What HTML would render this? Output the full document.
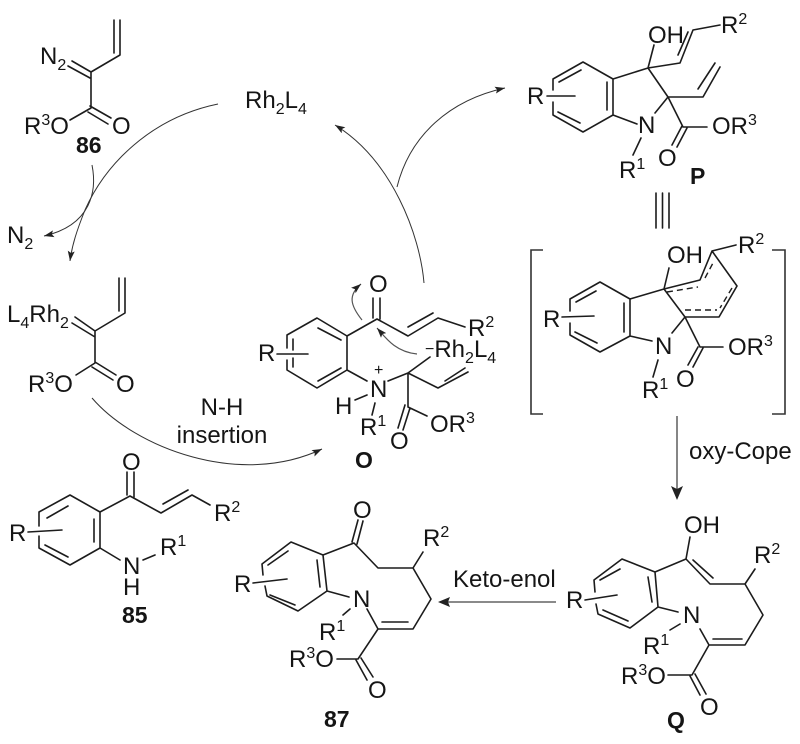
<!DOCTYPE html>
<html>
<head>
<meta charset="utf-8">
<style>
html,body{margin:0;padding:0;background:#fff}
svg{display:block;filter:blur(.3px)}
text{font-family:"Liberation Sans",sans-serif;font-size:24px;fill:#151515}
.s{font-size:16px}
.b{font-weight:bold;font-size:23px}
.l{fill:none;stroke:#1c1c1c;stroke-width:1.6;stroke-linecap:round;stroke-linejoin:round}
.d{fill:none;stroke:#1c1c1c;stroke-width:1.4;stroke-dasharray:6 4}
.a{fill:none;stroke:#333;stroke-width:1;marker-end:url(#ah)}
.g{fill:none;stroke:#555;stroke-width:1.2;marker-end:url(#ah)}
.st{fill:none;stroke:#444;stroke-width:1.3}
</style>
</head>
<body>
<svg width="800" height="744" viewBox="0 0 800 744" xmlns="http://www.w3.org/2000/svg">
<defs>
<marker id="ah" markerUnits="userSpaceOnUse" markerWidth="12" markerHeight="8" refX="10" refY="4" orient="auto">
<path d="M0,0.5 L10,4 L0,7.5 L2,4 Z" fill="#222"/>
</marker>
</defs>

<!-- curved cycle arrows -->
<path class="a" d="M218,104 C150,118 105,165 85,210 C77,230 72,245 70,261"/>
<path class="a" d="M92,165 C97,190 92,225 44,236"/>
<path class="a" d="M424,283 C420,235 392,160 335,125"/>
<path class="a" d="M397,187 C410,135 450,100 505,88"/>
<path class="a" d="M92,398 C135,448 240,488 322,449"/>
<path class="g" d="M362,320 C350,305 348,295 361,284"/>
<path class="g" d="M417,354 C395,352 385,337 377,328"/>

<!-- straight arrows -->
<path class="st" d="M677,416 V498"/>
<path d="M677,500 L671,486 L677,489 L683,486 Z" fill="#222"/>
<path class="st" d="M556,602 H442"/>
<path d="M438,602 L450,597 L448,602 L450,607 Z" fill="#222"/>

<!-- 86 -->
<path class="l" d="M114,20 V53 M120,20 V55 L91,72 V108 L70,120 M91,72 L72,61 M90,78 L68,66 M90,106 L111,118 M88,112 L108,124"/>
<text x="40" y="64">N<tspan class="s" dy="6">2</tspan></text>
<text x="24" y="134">R<tspan class="s" dy="-9">3</tspan><tspan dy="9">O</tspan></text>
<text x="112" y="134">O</text>
<text class="b" x="76" y="153">86</text>

<text x="245" y="108">Rh<tspan class="s" dy="6">2</tspan><tspan dy="-6">L</tspan><tspan class="s" dy="6">4</tspan></text>
<text x="7" y="243">N<tspan class="s" dy="6">2</tspan></text>

<!-- L4Rh2 carbene -->
<path class="l" d="M119,278 V311 M125,278 V313 L95,331 V363 L76,375 M95,331 L75,317 M95,337 L72,323 M95,362 L116,375 M92,367 L113,380"/>
<text x="7" y="322">L<tspan class="s" dy="6">4</tspan><tspan dy="-6">Rh</tspan><tspan class="s" dy="6">2</tspan></text>
<text x="28" y="392">R<tspan class="s" dy="-9">3</tspan><tspan dy="9">O</tspan></text>
<text x="116" y="392">O</text>

<text x="222" y="415" text-anchor="middle">N-H</text>
<text x="222" y="443" text-anchor="middle">insertion</text>

<!-- 85 -->
<path class="l" d="M39,526 V512 L70,495 L100,512 V548 L70,565 L39,548 V536 M47,518 L68,506 M94,519 V542 M45,545 L68,557 M28,532 L62,530 M100,512 L130,496 L161,513 L192,495 L210,505 M127,472 V495 M134,472 V497 M163,504 L188,490 M100,548 L120,560 M143,560 L155,555"/>
<text x="9" y="541">R</text>
<text x="122" y="470">O</text>
<text x="214" y="521">R<tspan class="s" dy="-9">2</tspan></text>
<text x="160" y="555">R<tspan class="s" dy="-9">1</tspan></text>
<text x="123" y="574">N</text>
<text x="123" y="595">H</text>
<text class="b" x="122" y="623">85</text>

<!-- O intermediate -->
<path class="l" d="M287,348 V335 L317,318 L347,336 V370 L317,388 L287,370 V360 M318,328 L341,340 M318,381 L341,368 M293,339 V350 M293,358 V367 M277,354 H308 M347,336 L377,319 L408,336 L438,318 L465,327 M373,298 V318 M380,298 V319 M408,327 L433,313 M347,370 L367,381 M355,400 L367,395 M375,403 L372,415 M388,381 L408,373 L430,357 M408,373 L438,388 L468,372 M445,381 L465,368 M408,373 V407 M405,405 L398,428 M410,408 L403,430 M408,407 L427,416"/>
<text x="258" y="361">R</text>
<text x="369" y="292">O</text>
<text x="468" y="336">R<tspan class="s" dy="-9">2</tspan></text>
<text x="425" y="357"><tspan class="s" dy="-3">−</tspan><tspan dy="3">Rh</tspan><tspan class="s" dy="6">2</tspan><tspan dy="-6">L</tspan><tspan class="s" dy="6">4</tspan></text>
<text x="370" y="397">N</text>
<text class="s" x="374" y="375">+</text>
<text x="335" y="414">H</text>
<text x="360" y="435">R<tspan class="s" dy="-9">1</tspan></text>
<text x="390" y="449">O</text>
<text x="430" y="432">OR<tspan class="s" dy="-9">3</tspan></text>
<text class="b" x="355" y="468">O</text>

<!-- P -->
<path class="l" d="M553,90 V79 L583,62 L613,79 V115 L583,132 L553,115 V102 M559,82 L581,70 M607,82 V110 M558,112 L580,123 M547,96 H575 M613,79 L648,68 L654,45 M648,68 L680,63 L693,30 L720,25 M678,55 L688,32 M648,68 L668,97 L703,97 L720,67 M698,89 L715,63 M613,115 L637,124 M655,113 L668,97 L683,127 L707,127 M682,126 L672,145 M687,128 L677,147 M641,138 L633,155"/>
<text x="527" y="104">R</text>
<text x="648" y="43">OH</text>
<text x="721" y="33">R<tspan class="s" dy="-9">2</tspan></text>
<text x="638" y="133">N</text>
<text x="619" y="178">R<tspan class="s" dy="-9">1</tspan></text>
<text x="712" y="134">OR<tspan class="s" dy="-9">3</tspan></text>
<text x="658" y="166">O</text>
<text class="b" x="690" y="184">P</text>

<!-- triple bond equivalence -->
<path class="l" d="M656,193 V228 M662.5,193 V228 M669,193 V228"/>

<!-- brackets -->
<path class="st" style="stroke:#333;stroke-width:1.6" d="M543,250 H531 V414 H543 M772,250 H785 V414 H772"/>

<!-- bracket structure -->
<path class="l" d="M570,311 V299 L600,282 L630,299 V336 L600,352 L570,335 V323 M576,302 L596,291 M624,303 V332 M575,332 L597,343 M562,317 L594,316 M630,299 L664,289 L669,268 M664,289 L700,280 L712,251 L736,245 M712,251 L737,286 L719,317 L685,317 L664,289 M630,336 L652,341 M672,333 L685,317 L700,347 L723,347 M698,347 L688,365 M703,348 L693,367 M658,360 L653,377"/>
<path class="d" d="M667,292 L698,287 M705,278 L713,263 M732,288 L720,308 M685,310 L717,310"/>
<text x="543" y="327">R</text>
<text x="667" y="263">OH</text>
<text x="738" y="253">R<tspan class="s" dy="-9">2</tspan></text>
<text x="655" y="354">N</text>
<text x="642" y="398">R<tspan class="s" dy="-9">1</tspan></text>
<text x="728" y="355">OR<tspan class="s" dy="-9">3</tspan></text>
<text x="676" y="387">O</text>

<text x="689" y="459">oxy-Cope</text>
<text x="453" y="587">Keto-enol</text>

<!-- Q -->
<path class="l" d="M595,592 L594,580 L622,559 L655,572 L658,607 L630,628 L598,614 L596,604 M600,580 L620,569 M648,577 L652,602 M603,610 L628,621 M585,600 L617,595 M655,572 L686,559 L690,537 M686,559 L710,584 L745,584 L755,569 M693,560 L713,578 M745,584 L763,615 L745,645 L709,645 L700,629 M742,639 L713,639 M658,607 L678,612 M680,624 L670,630 M709,645 L692,675 L668,675 M690,676 L700,695 M695,674 L706,694"/>
<text x="566" y="608">R</text>
<text x="684" y="533">OH</text>
<text x="754" y="563">R<tspan class="s" dy="-9">2</tspan></text>
<text x="683" y="623">N</text>
<text x="643" y="654">R<tspan class="s" dy="-9">1</tspan></text>
<text x="621" y="684">R<tspan class="s" dy="-9">3</tspan><tspan dy="9">O</tspan></text>
<text x="700" y="715">O</text>
<text class="b" x="667" y="728">Q</text>

<!-- 87 -->
<path class="l" d="M263,575 L262,564 L291,542 L323,555 L327,591 L298,611 L267,596 L265,586 M268,565 L288,551 M317,560 L320,587 M270,595 L295,605 M253,583 L287,579 M323,555 L354,543 L378,568 H413 L423,552 M352,542 L358,520 M357,544 L363,521 M413,568 L431,599 L413,629 H378 L367,609 M382,622 H408 M327,591 L349,597 M350,609 L343,615 M378,629 L358,659 H337 M356,660 L367,680 M361,658 L373,677"/>
<text x="234" y="592">R</text>
<text x="353" y="518">O</text>
<text x="423" y="546">R<tspan class="s" dy="-9">2</tspan></text>
<text x="353" y="607">N</text>
<text x="319" y="640">R<tspan class="s" dy="-9">1</tspan></text>
<text x="289" y="667">R<tspan class="s" dy="-9">3</tspan><tspan dy="9">O</tspan></text>
<text x="368" y="698">O</text>
<text class="b" x="324" y="727">87</text>
</svg>
</body>
</html>
